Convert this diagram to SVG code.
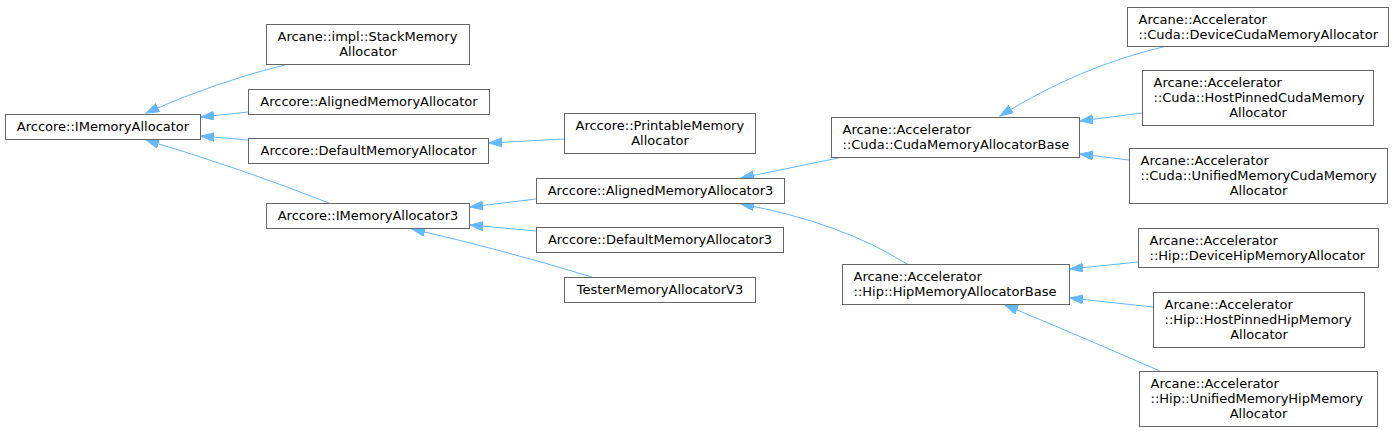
<svg xmlns="http://www.w3.org/2000/svg" width="1395" height="431" viewBox="0 0 1395 431">
<style>
.n rect{fill:#ffffff;stroke:#666666;stroke-width:1}
.n text{font-family:"DejaVu Sans",sans-serif;font-size:13px;fill:#000000}
.c{text-anchor:middle}
.e path{fill:none;stroke:#63b8ff;stroke-width:1}
</style>
<defs>
<marker id="ah" markerUnits="userSpaceOnUse" markerWidth="14" markerHeight="10" refX="13" refY="4.5" orient="auto">
<path d="M0,0 L13,4.5 L0,9 z" fill="#63b8ff" stroke="#63b8ff" stroke-width="1"/>
</marker>
</defs>
<rect width="1395" height="431" fill="#ffffff"/>
<g class="e">
<path d="M288,64 Q215,82 146,113" marker-end="url(#ah)"/>
<path d="M248,112 L201,117" marker-end="url(#ah)"/>
<path d="M248,140 L201,136" marker-end="url(#ah)"/>
<path d="M329,203 Q240,168 146,140" marker-end="url(#ah)"/>
<path d="M564,139 L489,143" marker-end="url(#ah)"/>
<path d="M536,199 L470,207" marker-end="url(#ah)"/>
<path d="M536,231 L470,225" marker-end="url(#ah)"/>
<path d="M592,277 Q500,249 412,229" marker-end="url(#ah)"/>
<path d="M843,157 L741,178" marker-end="url(#ah)"/>
<path d="M907,264 Q840,222 741,204" marker-end="url(#ah)"/>
<path d="M1167,46 Q1080,66 1000,116" marker-end="url(#ah)"/>
<path d="M1142,113 L1080,121" marker-end="url(#ah)"/>
<path d="M1129,160 L1080,154" marker-end="url(#ah)"/>
<path d="M1138,262 L1070,269" marker-end="url(#ah)"/>
<path d="M1153,307 L1070,298" marker-end="url(#ah)"/>
<path d="M1160,371 Q1075,334 1005,305" marker-end="url(#ah)"/>
</g>
<g id="n1" class="n"><rect x="5.5" y="114.5" width="195" height="25"/><text class="c" x="103" y="131">Arccore::IMemoryAllocator</text></g>
<g id="n2" class="n"><rect x="266.5" y="24.5" width="203" height="40"/><text x="277.5" y="41">Arcane::impl::StackMemory</text><text class="c" x="368" y="56">Allocator</text></g>
<g id="n3" class="n"><rect x="248.5" y="89.5" width="241" height="25"/><text class="c" x="369" y="106">Arccore::AlignedMemoryAllocator</text></g>
<g id="n4" class="n"><rect x="248.5" y="138.5" width="240" height="25"/><text class="c" x="368.5" y="155">Arccore::DefaultMemoryAllocator</text></g>
<g id="n5" class="n"><rect x="266.5" y="203.5" width="203" height="25"/><text class="c" x="368" y="220">Arccore::IMemoryAllocator3</text></g>
<g id="n6" class="n"><rect x="564.5" y="113.5" width="191" height="40"/><text x="575.5" y="130">Arccore::PrintableMemory</text><text class="c" x="660" y="145">Allocator</text></g>
<g id="n7" class="n"><rect x="536.5" y="178.5" width="248" height="25"/><text class="c" x="660.5" y="195">Arccore::AlignedMemoryAllocator3</text></g>
<g id="n8" class="n"><rect x="536.5" y="227.5" width="247" height="25"/><text class="c" x="660" y="244">Arccore::DefaultMemoryAllocator3</text></g>
<g id="n9" class="n"><rect x="564.5" y="277.5" width="191" height="25"/><text class="c" x="660" y="294">TesterMemoryAllocatorV3</text></g>
<g id="n10" class="n"><rect x="831.5" y="117.5" width="248" height="40"/><text x="842.5" y="134">Arcane::Accelerator</text><text x="842.5" y="149">::Cuda::CudaMemoryAllocatorBase</text></g>
<g id="n11" class="n"><rect x="842.5" y="264.5" width="227" height="40"/><text x="853.5" y="281">Arcane::Accelerator</text><text x="853.5" y="296">::Hip::HipMemoryAllocatorBase</text></g>
<g id="n12" class="n"><rect x="1127.5" y="7.5" width="261" height="39"/><text x="1138.5" y="24">Arcane::Accelerator</text><text x="1138.5" y="39">::Cuda::DeviceCudaMemoryAllocator</text></g>
<g id="n13" class="n"><rect x="1142.5" y="70.5" width="231" height="55"/><text x="1153.5" y="87">Arcane::Accelerator</text><text x="1153.5" y="102">::Cuda::HostPinnedCudaMemory</text><text class="c" x="1258" y="117">Allocator</text></g>
<g id="n14" class="n"><rect x="1129.5" y="148.5" width="258" height="55"/><text x="1140.5" y="165">Arcane::Accelerator</text><text x="1140.5" y="180">::Cuda::UnifiedMemoryCudaMemory</text><text class="c" x="1258.5" y="195">Allocator</text></g>
<g id="n15" class="n"><rect x="1138.5" y="228.5" width="240" height="39"/><text x="1149.5" y="245">Arcane::Accelerator</text><text x="1149.5" y="260">::Hip::DeviceHipMemoryAllocator</text></g>
<g id="n16" class="n"><rect x="1153.5" y="292.5" width="211" height="55"/><text x="1164.5" y="309">Arcane::Accelerator</text><text x="1164.5" y="324">::Hip::HostPinnedHipMemory</text><text class="c" x="1259" y="339">Allocator</text></g>
<g id="n17" class="n"><rect x="1139.5" y="371.5" width="238" height="55"/><text x="1150.5" y="388">Arcane::Accelerator</text><text x="1150.5" y="403">::Hip::UnifiedMemoryHipMemory</text><text class="c" x="1258.5" y="418">Allocator</text></g>
</svg>
